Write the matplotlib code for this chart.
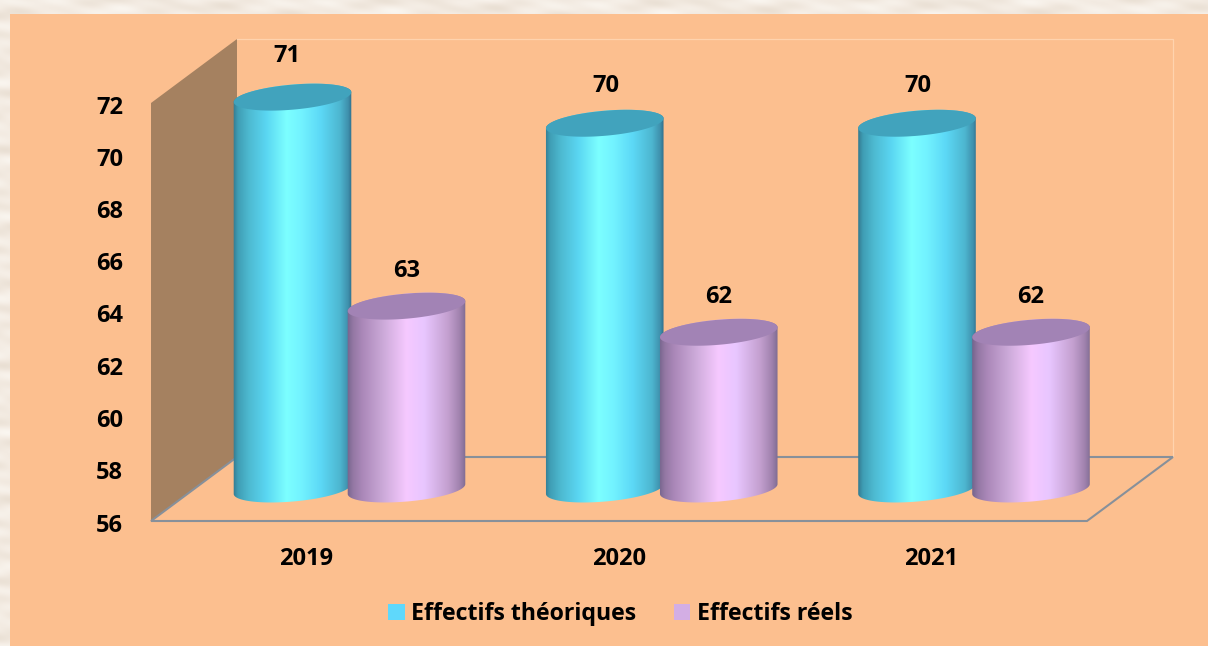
import numpy as np
import matplotlib
matplotlib.use("Agg")
import matplotlib.pyplot as plt
from matplotlib.patches import Polygon, Rectangle
from matplotlib.colors import LinearSegmentedColormap
from matplotlib.transforms import ScaledTranslation

categories = ["2019", "2020", "2021"]
theoriques = [71, 70, 70]
reels = [63, 62, 62]
y_ticks = [56, 58, 60, 62, 64, 66, 68, 70, 72]
series_names = ["Effectifs théoriques", "Effectifs réels"]

plt.rcParams["font.family"] = ["Open Sans", "DejaVu Sans"]
W, H = 1208, 646
fig = plt.figure(figsize=(W / 100, H / 100), dpi=100, facecolor="#F4ECE3")

# mottled paper surround (decorative, deterministic)
yy, xx = np.mgrid[0:H, 0:W]
paper = (np.sin(xx / 23.0 + yy / 3.1) + np.sin(xx / 41.0 - yy / 4.3 + 1.2)
         + 0.7 * np.sin(xx / 11.0 + yy / 7.0 + 2.1) + 0.6 * np.sin(xx / 7.0 - yy / 2.3))
paper = (paper - paper.min()) / (paper.max() - paper.min())
paper_cmap = LinearSegmentedColormap.from_list("paper", ["#E9DFD3", "#F3EBE2", "#FAF6F0"])
fig.figimage(paper, cmap=paper_cmap, zorder=-10, origin="upper")

fig.patches.append(Rectangle((10 / W, 0), 1 - 10 / W, 1 - 14 / H, transform=fig.transFigure,
                             facecolor="#FCBF8F", edgecolor="none", zorder=-5))

L, R, T, B = 151, 1087, 103, 521
ax = fig.add_axes([L / W, 1 - B / H, (R - L) / W, (B - T) / H])
ax.patch.set_alpha(0)
px_per_cat = 312.25
x0 = (L - 306.5) / px_per_cat
xlim = (x0, x0 + (R - L) / px_per_cat)
ylim = (56, 72)
px_per_val = (B - T) / 16.0

def sx(p):
    return p / px_per_cat

def sy(p):
    return p / px_per_val

DX, DY = sx(86), sy(64)  # full depth of the 3-D box

# walls and floor
ax.add_patch(Polygon([(xlim[0], ylim[0]), (xlim[0], ylim[1]), (xlim[0] + DX, ylim[1] + DY),
                      (xlim[0] + DX, ylim[0] + DY)], closed=True, facecolor="#A58160",
                     edgecolor="none", clip_on=False, zorder=1))
back_x = xlim[1] + DX
ax.plot([xlim[0] + DX, back_x, back_x], [ylim[1] + DY, ylim[1] + DY, ylim[0] + DY],
        color="#FFD3AE", lw=0.9, clip_on=False, zorder=1)
ax.plot([xlim[0] + DX, xlim[0], xlim[1], back_x, xlim[0] + DX],
        [ylim[0] + DY, ylim[0], ylim[0], ylim[0] + DY, ylim[0] + DY],
        color="#87909A", lw=1.5, clip_on=False, zorder=2, solid_joinstyle="miter")

cyan = LinearSegmentedColormap.from_list("c", [
    (0.0, "#347A90"), (0.04, "#3F9DB4"), (0.13, "#4DB9D0"), (0.28, "#5AD6F2"),
    (0.45, "#7CFFFF"), (0.58, "#72F2FF"), (0.74, "#5CD8F6"), (0.9, "#4DB6D0"),
    (0.97, "#3F90AC"), (1.0, "#2F6F8C")])
purple = LinearSegmentedColormap.from_list("p", [
    (0.0, "#75648C"), (0.05, "#9478A4"), (0.13, "#AB88B9"), (0.3, "#CBA9D8"),
    (0.5, "#F6C9FF"), (0.65, "#E8C6FF"), (0.85, "#C4A0D0"), (0.95, "#A082AE"),
    (1.0, "#7F6C92")])

A, Bb, TH = 59.0, 12.5, np.deg2rad(5.0)

def ell(cx, cy, ts):
    xp = A * np.cos(ts) * np.cos(TH) - Bb * np.sin(ts) * np.sin(TH)
    yp = A * np.cos(ts) * np.sin(TH) + Bb * np.sin(ts) * np.cos(TH)
    return cx + sx(xp), cy + sy(yp)

def cylinder(xc, val, cmap, top_color, z, label_off):
    cx = xc + DX / 2
    base = ylim[0] + DY / 2
    top = val + DY / 2
    t0 = np.arctan2(-Bb * np.sin(TH), A * np.cos(TH))
    ts_up = np.linspace(t0, t0 + np.pi, 80)
    ts_dn = np.linspace(t0 + np.pi, t0 + 2 * np.pi, 80)
    ux, uy = ell(cx, top, ts_up)
    dx, dy = ell(cx, base, ts_dn)
    body = Polygon(np.column_stack([np.r_[ux, dx], np.r_[uy, dy]]), closed=True,
                   facecolor="none", edgecolor="none", transform=ax.transData)
    ax.add_patch(body)
    body.set_clip_on(False)
    half_w = sx(A * np.cos(TH) + 0.5)
    grad = np.linspace(0, 1, 256)[None, :]
    im = ax.imshow(grad, cmap=cmap, aspect="auto", origin="lower",
                   extent=(cx - half_w, cx + half_w, base - sy(20), top + sy(20)),
                   zorder=z, interpolation="bilinear")
    im.set_clip_box(fig.bbox)
    im.set_clip_path(body)
    tx, ty = ell(cx, top, np.linspace(0, 2 * np.pi, 160))
    ax.add_patch(Polygon(np.column_stack([tx, ty]), closed=True, facecolor=top_color,
                         edgecolor="none", clip_on=False, zorder=z + 0.1))
    ax.annotate(str(val), (cx, top), xytext=label_off, textcoords="offset points",
                ha="center", va="center", fontsize=DATA_FS, fontweight="bold",
                color="black", zorder=10, annotation_clip=False)

DATA_FS = 17
off = sx(57)
for i, (a, b) in enumerate(zip(theoriques, reels)):
    lab_off = (-4.3, 29.5) if i == 0 else (0.5, 27)
    cylinder(i - off, a, cyan, "#41A3BD", 3 + i, lab_off)
    cylinder(i + off, b, purple, "#A283B5", 3.5 + i, (0, 25.5))

ax.set_xlim(*xlim)
ax.set_ylim(*ylim)
ax.set_yticks(y_ticks)
ax.set_xticks(range(len(categories)))
ax.set_xticklabels(categories)
ax.tick_params(axis="y", length=0, pad=20, labelsize=DATA_FS)
ax.tick_params(axis="x", length=0, pad=18.7, labelsize=DATA_FS)
shift_down = ScaledTranslation(0, -1.5 / 100, fig.dpi_scale_trans)
for lab in ax.get_yticklabels():
    lab.set_transform(lab.get_transform() + shift_down)
for lab in ax.get_xticklabels() + ax.get_yticklabels():
    lab.set_fontweight("bold")
for s in ax.spines.values():
    s.set_visible(False)

handles = [Rectangle((0, 0), 1, 1, facecolor="#5FD8FB", edgecolor="none"),
           Rectangle((0, 0), 1, 1, facecolor="#D3AEE4", edgecolor="none")]
leg = fig.legend(handles, series_names, ncols=2, loc="center",
                 bbox_to_anchor=(620.5 / W, 1 - 614 / H), frameon=False,
                 prop={"size": 16.7, "weight": "bold"}, handlelength=0.7, handleheight=0.7,
                 handletextpad=0.29, columnspacing=1.62, borderpad=0)

fig.savefig("out.png", dpi=100, facecolor=fig.get_facecolor())
